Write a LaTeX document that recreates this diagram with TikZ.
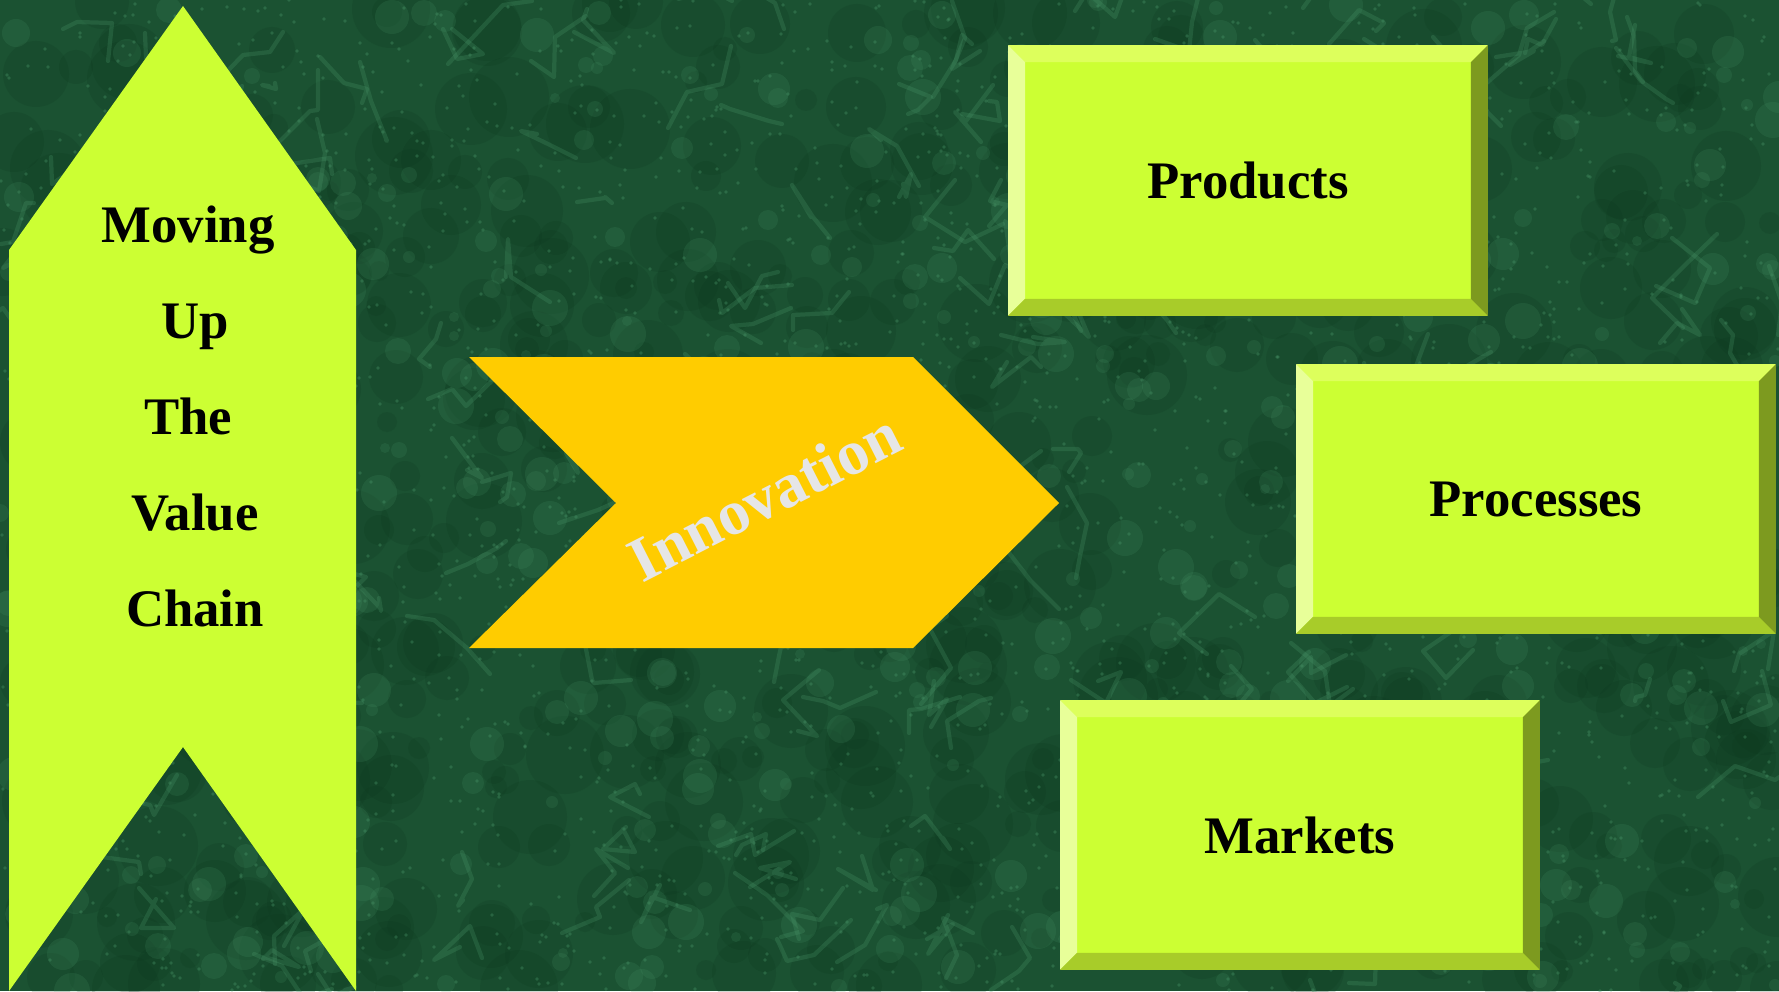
\documentclass[tikz,border=0pt]{standalone}
\usepackage{fontspec}
\setmainfont{Liberation Serif}
\usetikzlibrary{calc}

\definecolor{marble}{HTML}{1B5232}
\definecolor{marbledark}{HTML}{0C361D}
\definecolor{marblevein}{HTML}{4C9A6C}
\definecolor{lime}{HTML}{CCFF33}
\definecolor{limetop}{HTML}{DDFF5C}
\definecolor{limeleft}{HTML}{E8FF99}
\definecolor{limebot}{HTML}{A8CC29}
\definecolor{limeright}{HTML}{7D9A1F}
\definecolor{amber}{HTML}{FFCC00}
\definecolor{silver}{HTML}{E6E6E6}

\tikzset{
  chainword/.style={font=\fontsize{15}{18}\selectfont\bfseries, anchor=base},
  face/.style={fill=lime, minimum width=4.78cm, minimum height=2.68cm, inner sep=0pt,
    font=\fontsize{15}{18}\selectfont\bfseries},
}

\newcommand{\bevelframe}[1]{%
  \fill[limetop] (#1.north west) -- (#1.north east) -- ($(#1.north east)+(-17,17)$) -- ($(#1.north west)+(17,17)$) -- cycle;
  \fill[limeleft] (#1.north west) -- (#1.south west) -- ($(#1.south west)+(17,-17)$) -- ($(#1.north west)+(17,17)$) -- cycle;
  \fill[limebot] (#1.south west) -- (#1.south east) -- ($(#1.south east)+(-17,-17)$) -- ($(#1.south west)+(17,-17)$) -- cycle;
  \fill[limeright] (#1.north east) -- (#1.south east) -- ($(#1.south east)+(-17,-17)$) -- ($(#1.north east)+(-17,17)$) -- cycle;
}

\begin{document}
\begin{tikzpicture}[x=0.01cm,y=-0.01cm]

\useasboundingbox (0,0) rectangle (1779,991);

\begin{scope}
\clip (0,0) rectangle (1779,991);
\fill[marble] (0,0) rectangle (1779,991);
\pgfmathsetseed{42}
\foreach \i in {1,...,700}{
  \pgfmathsetmacro{\bx}{random(0,1779)}
  \pgfmathsetmacro{\by}{random(0,991)}
  \pgfmathsetmacro{\br}{random(10,40)}
  \fill[marbledark, opacity=0.18] (\bx,\by) circle[radius=\br];
}
\foreach \i in {1,...,500}{
  \pgfmathsetmacro{\bx}{random(0,1779)}
  \pgfmathsetmacro{\by}{random(0,991)}
  \pgfmathsetmacro{\br}{random(5,18)}
  \fill[marblevein, opacity=0.16] (\bx,\by) circle[radius=\br];
}
\foreach \i in {1,...,220}{
  \pgfmathsetmacro{\bx}{random(0,1779)}
  \pgfmathsetmacro{\by}{random(0,991)}
  \pgfmathsetmacro{\dxa}{random(-40,40)}
  \pgfmathsetmacro{\dya}{random(-40,40)}
  \pgfmathsetmacro{\dxb}{random(-40,40)}
  \pgfmathsetmacro{\dyb}{random(-40,40)}
  \pgfmathsetmacro{\dxc}{random(-40,40)}
  \pgfmathsetmacro{\dyc}{random(-40,40)}
  \draw[marblevein, opacity=0.25, line width=1.2pt, line cap=round, line join=round]
    (\bx,\by) -- ++(\dxa,\dya) -- ++(\dxb,\dyb) -- ++(\dxc,\dyc);
}
\foreach \i in {1,...,2600}{
  \pgfmathsetmacro{\bx}{random(0,1779)}
  \pgfmathsetmacro{\by}{random(0,991)}
  \fill[marblevein, opacity=0.35] (\bx,\by) circle[radius=1.8];
}
\end{scope}

\fill[lime] (9,991) -- (9,250) -- (183,6) -- (356,250) -- (356,991) -- (183,747) -- cycle;

\node[chainword] (moving) at (188,242) {Moving};
\node[chainword] (up) at (195,338) {Up};
\node[chainword] (the) at (188,434) {The};
\node[chainword] (value) at (195,530) {Value};
\node[chainword] (chain) at (195,626) {Chain};

\fill[amber] (469,357) -- (913,357) -- (1059,503) -- (913,648) -- (469,648) -- (616,503) -- cycle;

\node[rotate=27, anchor=base, inner sep=0pt, text=silver, font=\fontsize{18}{22}\selectfont\bfseries] (innov) at (774,516) {Innovation};

\node[face, minimum height=2.69cm] (products) at (1248,180.5) {Products};
\bevelframe{products}

\node[face] (processes) at (1536,499) {Processes};
\bevelframe{processes}

\node[face] (markets) at (1300,835) {Markets};
\bevelframe{markets}

\end{tikzpicture}
\end{document}
